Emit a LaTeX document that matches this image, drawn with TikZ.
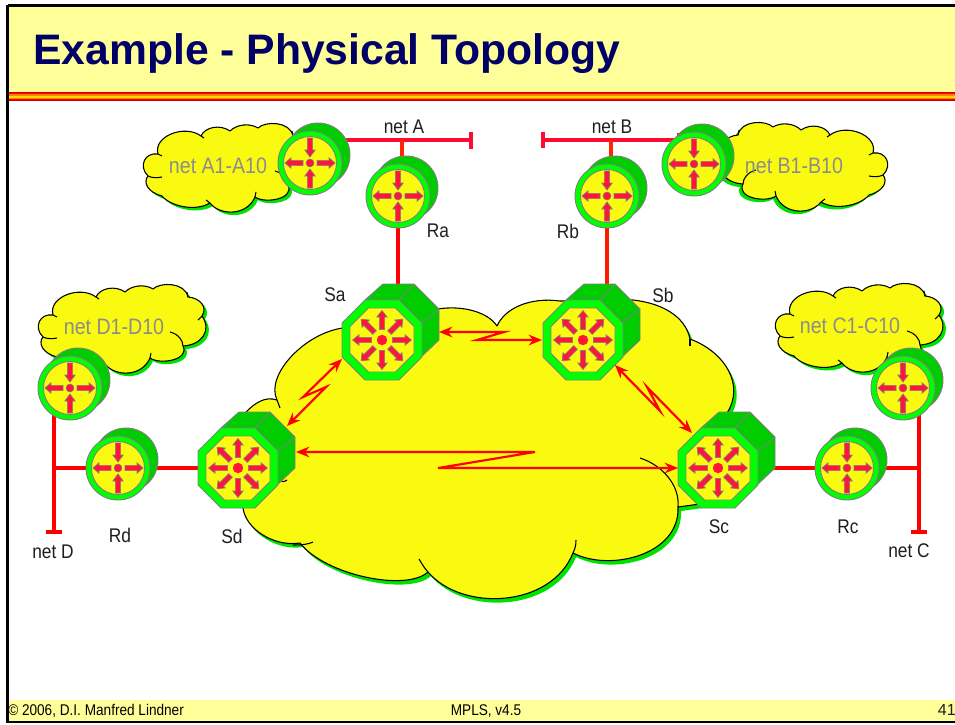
\documentclass[tikz,border=0pt]{standalone}
\usepackage{fontspec}
\usepackage{graphicx}
\setmainfont{Liberation Sans}
\usetikzlibrary{arrows.meta}
\definecolor{cy}{RGB}{250,250,16}
\definecolor{pale}{RGB}{255,255,153}
\definecolor{gbright}{RGB}{0,255,0}
\definecolor{gdark}{RGB}{0,204,0}
\definecolor{gshadow}{RGB}{0,225,0}
\definecolor{edge}{RGB}{128,128,128}
\definecolor{arr}{RGB}{255,20,60}
\definecolor{navy2}{RGB}{0,0,102}
\definecolor{lan}{RGB}{255,10,50}
\definecolor{txt}{RGB}{30,30,30}
\definecolor{greytxt}{RGB}{140,140,140}
\newcommand{\tall}[1]{\scalebox{1}[1.14]{#1}}
\tikzset{
  dev/.style={draw=edge,line width=0.7pt},
  arrowpoly/.style={fill=arr,draw=edge,line width=0.5pt,line join=miter},
  wire/.style={draw=red,line width=2.3pt},
  lanline/.style={wire,draw=lan},
  link/.style={draw=red,line width=1.6pt,{Stealth[length=10pt,width=8pt]}-{Stealth[length=10pt,width=8pt]},line join=miter},
  lab/.style={font=\fontsize{13}{15}\selectfont,text=txt,inner sep=0pt,anchor=center},
  cloudlab/.style={font=\fontsize{14.7}{17}\selectfont,text=greytxt,inner sep=0pt,anchor=center},
  foot/.style={font=\fontsize{10.2}{12}\selectfont,text=black,inner sep=0pt},
  cloudline/.style={draw=black,line width=0.8pt,line join=round},
}
% one device arrow: angle, base radius, head-base radius, tip radius
\newcommand{\darr}[4]{\filldraw[arrowpoly,rotate=#1] (#2,-2.6)--(#3,-2.6)--(#3,-5.2)--(#4,0)--(#3,5.2)--(#3,2.6)--(#2,2.6)--cycle;}
\newcommand{\routerdev}[3]{%
  \node[circle,minimum size=48pt,inner sep=0pt] (#1) at (#2,#3) {};
  \begin{scope}[shift={(#2,#3)}]
    \filldraw[dev,fill=gdark] (8,-8) circle[radius=32];
    \filldraw[dev,fill=gbright] (0,0) circle[radius=32];
    \filldraw[dev,fill=cy] (0,0) circle[radius=26.5];
    \darr{0}{7}{19}{25}
    \darr{180}{7}{19}{25}
    \darr{90}{25}{13}{6}
    \darr{270}{25}{13}{6}
    \fill[arr,draw=edge,line width=0.4pt] (0,0) circle[radius=4];
  \end{scope}}
\newcommand{\switchdev}[3]{%
  \node[circle,minimum size=60pt,inner sep=0pt] (#1) at (#2,#3) {};
  \begin{scope}[shift={(#2,#3)}]
    \filldraw[dev,fill=gdark,line join=round] (-17,-40)--(1,-56)--(32,-56)--(57,-31)--(57,0)--(39,17)--(39,-17)--(17,-40)--cycle;
    \draw[dev] (17,-40)--(32,-56) (39,-17)--(57,-31);
    \filldraw[dev,fill=gbright] (-17,-40)--(17,-40)--(40,-17)--(40,17)--(17,40)--(-17,40)--(-40,17)--(-40,-17)--cycle;
    \filldraw[dev,fill=cy] (-13.5,-32)--(13.5,-32)--(32,-13.5)--(32,13.5)--(13.5,32)--(-13.5,32)--(-32,13.5)--(-32,-13.5)--cycle;
    \foreach \a in {0,45,...,315}{\darr{\a}{10.5}{23}{29.5}}
    \fill[arr] (0,0) circle[radius=5.2];
  \end{scope}}
\newcommand{\smallcloudoutline}{%
  (23,30) .. controls (18,12) and (50,0) .. (66,12)
  .. controls (70,3) and (85,0) .. (95,7)
  .. controls (102,0) and (115,-1) .. (123,4)
  .. controls (130,-3) and (155,-3) .. (158,12)
  .. controls (170,13) and (178,22) .. (172,31)
  .. controls (182,45) and (172,60) .. (153,61)
  .. controls (160,75) and (130,80) .. (120,73)
  .. controls (112,92) and (85,92) .. (75,79)
  .. controls (60,88) and (35,82) .. (27,72)
  .. controls (12,68) and (8,58) .. (13,52)
  .. controls (3,42) and (10,28) .. (23,30)
  -- cycle}
\newcommand{\smallcloud}[1]{%
  \begin{scope}[#1]
    \begin{scope}[shift={(3,3)}]\fill[gshadow] \smallcloudoutline;\end{scope}
    \filldraw[cloudline,fill=cy] \smallcloudoutline;
    \draw[cloudline] (13,52) .. controls (17,54) and (22,54) .. (27,53);
    \draw[cloudline] (140,47) .. controls (148,49) and (153,55) .. (153,61);
    \draw[cloudline] (66,12) -- (69,14) (158,12) -- (157,7) (172,31) -- (168,35) (23,30) -- (27,32) (120,73) -- (121,68) (75,79) -- (71,76);
  \end{scope}}
\newcommand{\bigoutline}{%
  (243,508) .. controls (246,530) and (275,547) .. (300,543)
  .. controls (325,575) and (406,592) .. (428,572)
  .. controls (462,612) and (551,608) .. (573,553)
  .. controls (610,572) and (680,555) .. (678,507)
  -- (700,504) -- (727,413)
  .. controls (745,385) and (725,352) .. (690,339)
  .. controls (685,315) and (660,303) .. (633,300)
  -- (560,301)
  .. controls (530,297) and (505,308) .. (497,326)
  .. controls (488,312) and (462,305) .. (438,309)
  -- (343,328)
  .. controls (305,333) and (265,375) .. (277,400)
  .. controls (265,396) and (255,403) .. (246,412)
  -- cycle}
\begin{document}
\begin{tikzpicture}[x=0.75pt,y=-0.75pt]
\useasboundingbox (0,0) rectangle (955,724);
\fill[white] (0,0) rectangle (955,724);
% slide
\fill[pale] (7,6) rectangle (955,92);
\fill[red!80!black] (7,92) rectangle (955,101);
\fill[red] (7,92.8) rectangle (955,100);
\fill[orange] (7,94) rectangle (955,99);
\fill[yellow!75!orange] (7,95.5) rectangle (955,97.5);
\fill[pale] (7,700) rectangle (955,721);
\draw[black,line width=1.9pt] (7.5,5.5) -- (955,5.5);
\draw[black,line width=1.9pt] (7.5,5) -- (7.5,722) -- (955,722);
\node[font=\bfseries\fontsize{32}{36}\selectfont,text=navy2,inner sep=0pt,anchor=west] (title) at (33,54) {Example - Physical Topology};
% clouds
\begin{scope}[shift={(3,4)}]\fill[gshadow] \bigoutline;\end{scope}
\filldraw[cloudline,fill=cy] \bigoutline;
\draw[cloudline] (293,545) .. controls (303,545) and (309,544) .. (313,542);
\draw[cloudline] (419,559) .. controls (422,564) and (425,569) .. (428,572);
\draw[cloudline] (573,553) .. controls (575,549) and (576,545) .. (576,540);
\draw[cloudline] (640,458) .. controls (662,465) and (680,485) .. (678,507);
\draw[cloudline] (690,346) -- (690,339);
\draw[cloudline] (280,408) -- (277,400);
\draw[cloudline] (281,481) .. controls (283,482) and (285,482) .. (287,480);
\smallcloud{shift={(135,124)}}
\smallcloud{shift={(896,123)},xscale=-1}
\smallcloud{shift={(767,284)}}
\smallcloud{shift={(30,285)}}
% anchor points for wires
\coordinate (AtickT) at (471,131.5);\coordinate (AtickB) at (471,148.5);
\coordinate (AEnd) at (471,140);\coordinate (BEnd) at (543,140);
\coordinate (BtickT) at (543,132);\coordinate (BtickB) at (543,148);
\coordinate (DEnd) at (54,532);\coordinate (CEnd) at (919,532);
\coordinate (DtL) at (46,532);\coordinate (DtR) at (62,532);
\coordinate (CtL) at (911,532);\coordinate (CtR) at (927,532);
\coordinate (AJ) at (402,140);\coordinate (BJ) at (611,140);
\coordinate (AJb) at (402,170);\coordinate (BJb) at (611,170);
\coordinate (DJ) at (54,468);\coordinate (CJ) at (919,468);
\coordinate (ATop) at (398,196);\coordinate (SaTop) at (398,300);
\coordinate (BTop) at (607,196);\coordinate (SbTop) at (607,300);
\coordinate (A2) at (310,140);\coordinate (B2) at (679,140);
\coordinate (D2) at (54,400);\coordinate (C2) at (919,400);
\coordinate (BtR) at (679,133);
\coordinate (SdC) at (238,468);\coordinate (ScC) at (718,468);
% wires
\draw[lanline] (A2) -- (AEnd);
\draw[lanline] (AtickT) -- (AtickB);
\draw[lanline] (BEnd) -- (B2);
\draw[lanline] (BtickT) -- (BtickB);
\draw[lanline] (BtR) -- (B2);
\draw[wire,draw=orange!30!red] (AJ) -- (AJb);
\draw[wire,draw=orange!30!red] (BJ) -- (BJb);
\draw[wire] (ATop) -- (SaTop);
\draw[wire,draw=orange!20!red] (BTop) -- (SbTop);
\draw[wire] (D2) -- (DEnd);
\draw[wire] (DtL) -- (DtR);
\draw[wire] (C2) -- (CEnd);
\draw[wire] (CtL) -- (CtR);
\draw[wire] (DJ) -- (SdC);
\draw[wire] (ScC) -- (CJ);
% devices
\routerdev{Rtwo}{310}{163}
\routerdev{Rfour}{694}{164}
\routerdev{Rone}{70}{388}
\routerdev{Rthree}{903}{388}
\routerdev{Ra}{398}{196}
\routerdev{Rb}{607}{196}
\routerdev{Rd}{118}{468}
\routerdev{Rc}{847}{468}
\switchdev{Sa}{382}{340}
\switchdev{Sb}{583}{340}
\switchdev{Sd}{238}{468}
\switchdev{Sc}{718}{468}
% serial links
\coordinate (SaE) at (439,332);\coordinate (SbW) at (542,340);
\coordinate (SaS) at (342,359);\coordinate (SdN) at (287,426);
\coordinate (SbS) at (615,365);\coordinate (ScN) at (692,433);
\coordinate (SdE) at (296,452);\coordinate (ScW) at (678,468);
\draw[link] (SaE) -- (504,332) -- (477,340) -- (SbW);
\draw[link] (SaS) -- (303,397) -- (326,387) -- (SdN);
\draw[link] (SbS) -- (660,411) -- (647,387) -- (ScN);
\draw[link] (SdE) -- (535,452) -- (438,468) -- (ScW);
% labels
\node[lab] (la) at (404,127) {\tall{net A}};
\node[lab] (lb) at (612,127) {\tall{net B}};
\node[lab] (lc) at (909,551) {\tall{net C}};
\node[lab] (ld) at (53,552) {\tall{net D}};
\node[lab] (lra) at (438,231) {\tall{Ra}};
\node[lab] (lrb) at (568,231) {\tall{Rb}};
\node[lab] (lrc) at (848,527) {\tall{Rc}};
\node[lab] (lrd) at (120,535) {\tall{Rd}};
\node[lab] (lsa) at (335,295) {\tall{Sa}};
\node[lab] (lsb) at (663,295) {\tall{Sb}};
\node[lab] (lsc) at (719,527) {\tall{Sc}};
\node[lab] (lsd) at (232,536) {\tall{Sd}};
\node[cloudlab] (ca) at (218,166) {\tall{net A1-A10}};
\node[cloudlab] (cb) at (794,166) {\tall{net B1-B10}};
\node[cloudlab] (cc) at (850,326) {\tall{net C1-C10}};
\node[cloudlab] (cd) at (114,327) {\tall{net D1-D10}};
\node[foot,anchor=west] (f1) at (8,711) {\tall{© 2006, D.I. Manfred Lindner}};
\node[foot,anchor=center] (f2) at (486,711) {\tall{MPLS, v4.5}};
\node[font=\fontsize{12}{14}\selectfont,text=txt,inner sep=0pt,anchor=east] (f3) at (956,710) {41};
\end{tikzpicture}
\end{document}
